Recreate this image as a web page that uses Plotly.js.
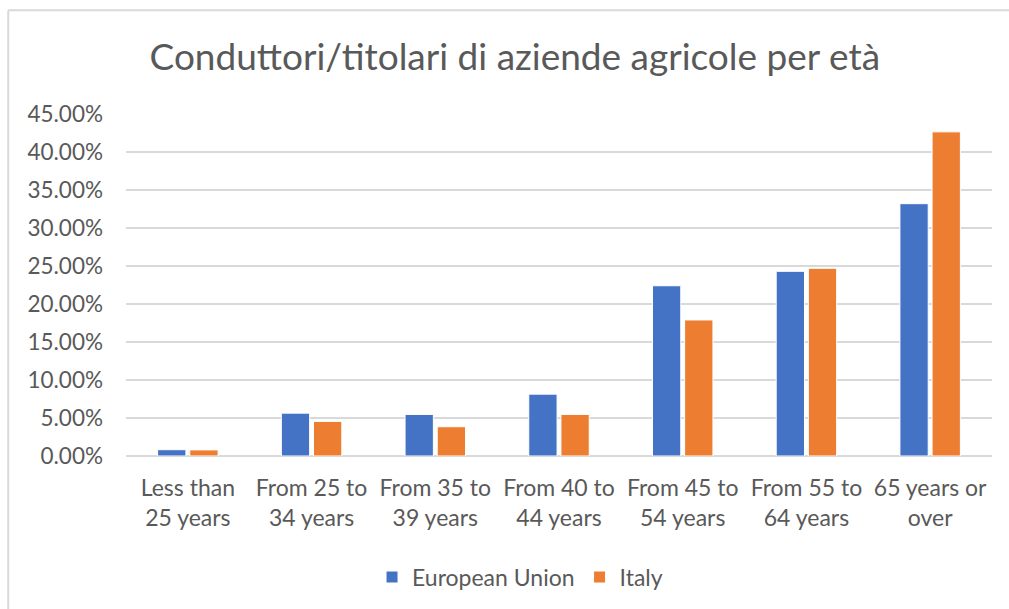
<!DOCTYPE html>
<html>
<head>
<meta charset="utf-8">
<script src="https://cdn.plot.ly/plotly-3.0.1.min.js"></script>
<style>
  html, body { margin: 0; padding: 0; background: #fff; }
  #chart { width: 1009px; height: 609px; }
</style>
</head>
<body>
<div id="chart"></div>
<script>
const categories = [
  "Less than<br>25 years",
  "From 25 to<br>34 years",
  "From 35 to<br>39 years",
  "From 40 to<br>44 years",
  "From 45 to<br>54 years",
  "From 55 to<br>64 years",
  "65 years or<br>over"
];
const euValues = [0.83, 5.64, 5.47, 8.14, 22.4, 24.3, 33.2];
const italyValues = [0.80, 4.55, 3.85, 5.47, 17.9, 24.7, 42.65];
const yTickVals = [0, 5, 10, 15, 20, 25, 30, 35, 40, 45];
const yTickText = ["0.00%", "5.00%", "10.00%", "15.00%", "20.00%", "25.00%", "30.00%", "35.00%", "40.00%", "45.00%"];

const FONT = "Lato, 'Open Sans', sans-serif";
const TXT = "#595959";

const traces = [
  {
    type: "bar", name: "European Union", x: categories, y: euValues,
    marker: { color: "#4472c4", line: { color: "#ffffff", width: 1 } }
  },
  {
    type: "bar", name: "Italy", x: categories, y: italyValues,
    marker: { color: "#ed7d31", line: { color: "#ffffff", width: 1 } }
  }
];

const layout = {
  width: 1009, height: 609,
  margin: { l: 126, r: 17, t: 114, b: 152 },
  paper_bgcolor: "#ffffff", plot_bgcolor: "#ffffff",
  font: { family: FONT, color: TXT, size: 22 },
  title: {
    text: "Conduttori/titolari di aziende agricole per età",
    font: { family: FONT, size: 37, color: TXT },
    xref: "paper", x: 0.449, xanchor: "center",
    yref: "container", y: 0.906, yanchor: "middle"
  },
  barmode: "group",
  bargap: 0.48,
  bargroupgap: 0.12,
  xaxis: {
    type: "category",
    showgrid: false, zeroline: false,
    showline: false,
    ticks: "",
    ticklabelstandoff: 16,
    tickfont: { family: FONT, size: 23, color: TXT }
  },
  yaxis: {
    range: [0, 45],
    tickvals: yTickVals, ticktext: yTickText,
    showgrid: true, gridcolor: "#d9d9d9", gridwidth: 1.5,
    zeroline: true, zerolinecolor: "#d9d9d9", zerolinewidth: 1.5,
    showline: false, ticks: "",
    ticklabelstandoff: 22,
    tickfont: { family: FONT, size: 22.5, color: TXT }
  },
  showlegend: true,
  legend: {
    orientation: "h",
    x: 0.455, xanchor: "center",
    y: -0.35, yanchor: "middle",
    font: { family: FONT, size: 23, color: TXT },
    itemwidth: 30,
    traceorder: "normal"
  },
  shapes: [
    { type: "line", xref: "paper", yref: "paper", x0: -0.136, x1: 1.02, y0: 1.303, y1: 1.303,
      line: { color: "#d9d9d9", width: 2 } },
    { type: "line", xref: "paper", yref: "paper", x0: -0.136, x1: -0.136, y0: 1.303, y1: -0.45,
      line: { color: "#d9d9d9", width: 2 } }
  ]
};

Plotly.newPlot("chart", traces, layout, { displayModeBar: false, staticPlot: true });
</script>
</body>
</html>
